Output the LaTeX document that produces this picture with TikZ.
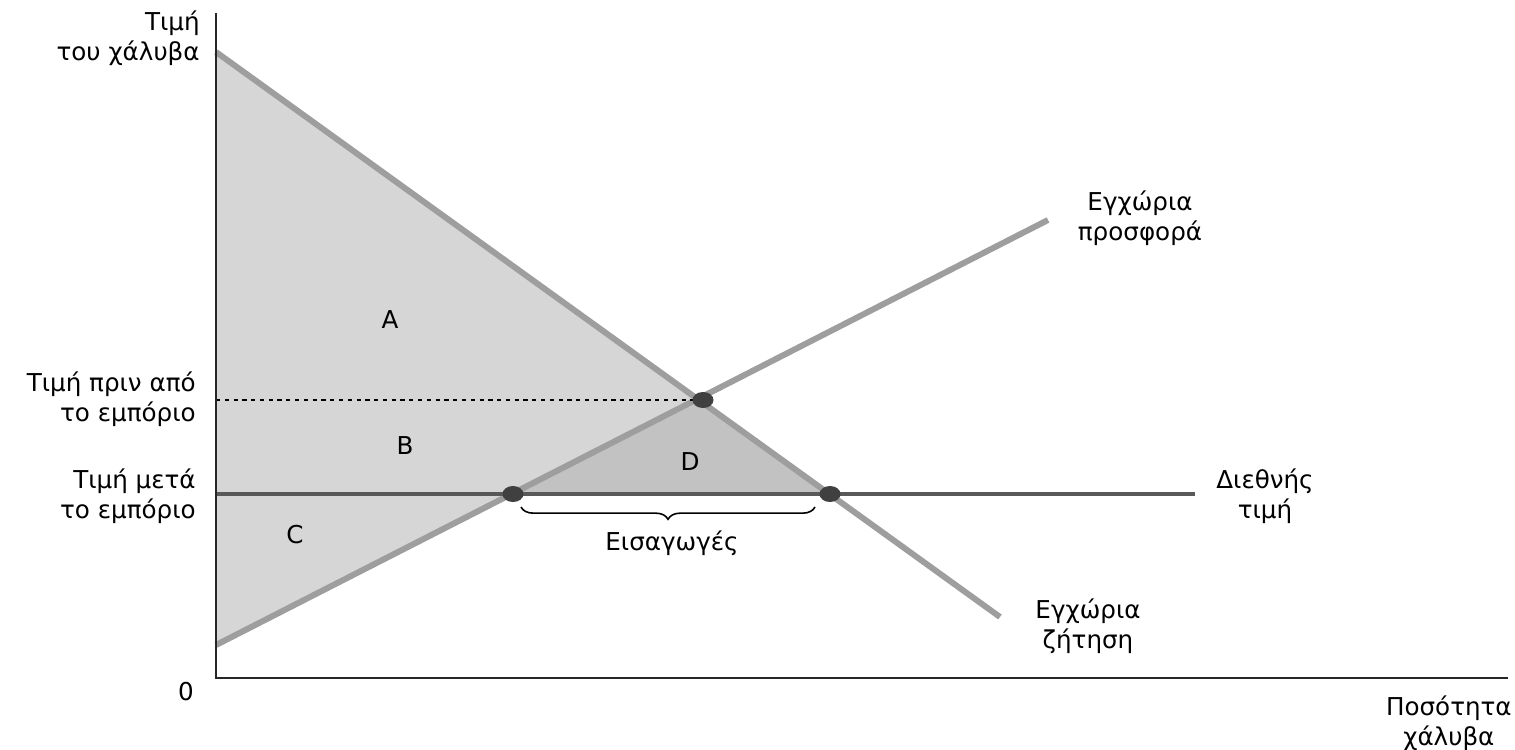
\documentclass[tikz,border=0pt]{standalone}
\usepackage{fontspec}
\setmainfont{DejaVu Sans}
\usetikzlibrary{decorations.pathreplacing,shapes.geometric}
\definecolor{areagray}{gray}{0.84}
\definecolor{deadgray}{gray}{0.76}
\definecolor{curvegray}{gray}{0.62}
\definecolor{worldgray}{gray}{0.35}

\begin{document}
\begin{tikzpicture}[x=0.02cm,y=-0.02cm,
  curve/.style={draw=curvegray,line width=3.4pt},
  worldline/.style={draw=worldgray,line width=2.8pt},
  axis/.style={draw=black!85,line width=1.3pt},
  dotpt/.style={ellipse,inner sep=0mm,fill=black!75,minimum width=4.2mm,minimum height=3.2mm},
  txt/.style={font=\fontsize{14}{17}\selectfont,align=center,inner sep=0pt}]
\useasboundingbox (0,0) rectangle (1515,750);

\coordinate (O)     at ( 216, 678);
\coordinate (Ytop)  at ( 216,  13);
\coordinate (Xend)  at (1508, 678);
\coordinate (Dtop)  at ( 216,  52);
\coordinate (Dend)  at (1000, 617);
\coordinate (Sbot)  at ( 216, 645);
\coordinate (Send)  at (1048, 220);
\coordinate (Pw)    at ( 216, 494);
\coordinate (Pwend) at (1195, 494);
\coordinate (Pa)    at ( 216, 400);
\coordinate (e)     at ( 703, 400);
\coordinate (q1)    at ( 513, 494);
\coordinate (q2)    at ( 830, 494);
\coordinate (brL)   at ( 521, 507);
\coordinate (brR)   at ( 815, 507);

\fill[areagray] (Dtop) -- (q2) -- (q1) -- (Sbot) -- cycle;
\fill[deadgray] (e) -- (q2) -- (q1) -- cycle;

\draw[curve] (Dtop) -- (Dend);
\draw[curve] (Sbot) -- (Send);
\draw[worldline] (Pw) -- (Pwend);
\draw[line width=1.7pt,dash pattern=on 2.4pt off 2.6pt] (Pa) -- (e);
\draw[axis] (Ytop) -- (O) -- (Xend);

\node (E)  at (e)  [dotpt] {};
\node (Q1) at (q1) [dotpt] {};
\node (Q2) at (q2) [dotpt] {};

\draw[line width=0.9pt,decorate,decoration={brace,mirror,amplitude=7pt}] (brL) -- (brR);

\node (A) at (390, 320) [txt] {A};
\node (B) at (405, 446) [txt] {B};
\node (C) at (295, 535) [txt] {C};
\node (D) at (690, 462) [txt] {D};

\node (ylab)     at ( 200,  38) [txt,anchor=east,align=right] {Τιμή\\του χάλυβα};
\node (pbefore)  at ( 196, 399) [txt,anchor=east,align=right] {Τιμή πριν από\\το εμπόριο};
\node (pafter)   at ( 196, 496) [txt,anchor=east,align=right] {Τιμή μετά\\το εμπόριο};
\node (zero)     at ( 186, 692) [txt] {0};
\node (supplab)  at (1140, 218) [txt] {Εγχώρια\\προσφορά};
\node (worldlab) at (1265, 496) [txt] {Διεθνής\\τιμή};
\node (demlab)   at (1088, 626) [txt] {Εγχώρια\\ζήτηση};
\node (xlab)     at (1512, 723) [txt,anchor=east] {Ποσότητα\\χάλυβα};
\node (imports)  at ( 672, 543) [txt] {Εισαγωγές};
\end{tikzpicture}
\end{document}
